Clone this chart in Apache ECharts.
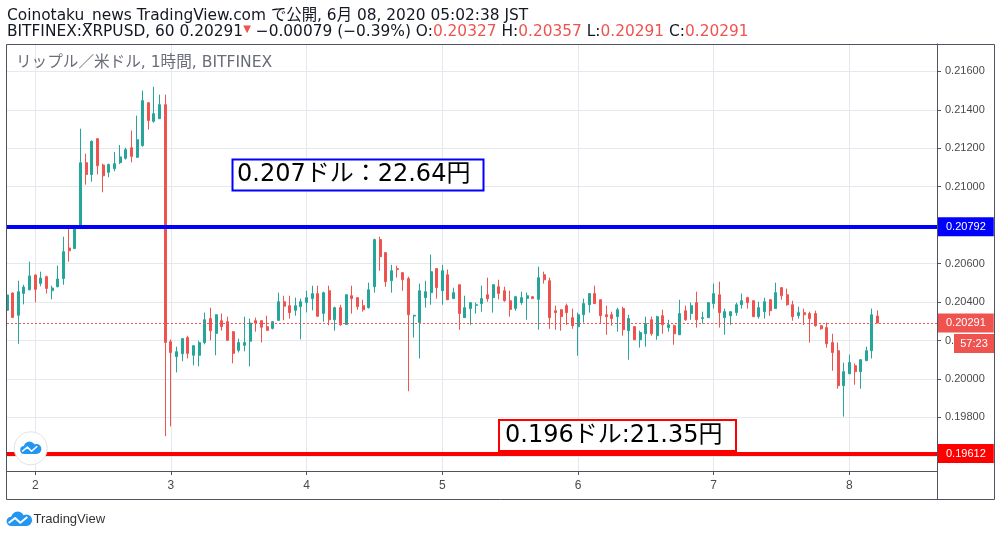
<!DOCTYPE html>
<html><head><meta charset="utf-8">
<script src="https://cdn.jsdelivr.net/npm/echarts@6/dist/echarts.min.js"></script>
<style>html,body{margin:0;padding:0;background:#fff}#c{width:1002px;height:537px}</style>
</head><body><div id="c"></div>
<script>
// hours relative to June 2, 00:00 ; first candle = June 1 19:00
const startHour = -5;
const opens = [0.20357,0.20447,0.20331,0.20445,0.20464,0.20541,0.20497,0.20532,0.20459,0.20480,
0.20522,0.20681,0.20678,0.20801,0.21125,0.21063,0.21250,0.21113,0.21075,0.21094,
0.21125,0.21148,0.21203,0.21153,0.21214,0.21437,0.21340,0.21354,0.21427,0.20194,
0.20116,0.20131,0.20215,0.20123,0.20123,0.20189,0.20314,0.20237,0.20303,0.20298,
0.20246,0.20149,0.20175,0.20196,0.20303,0.20303,0.20272,0.20263,0.20305,0.20402,
0.20381,0.20357,0.20376,0.20398,0.20418,0.20444,0.20341,0.20459,0.20308,0.20371,
0.20284,0.20433,0.20423,0.20381,0.20371,0.20480,0.20725,0.20657,0.20511,0.20574,
0.20553,0.20522,0.20327,0.20293,0.20423,0.20449,0.20574,0.20459,0.20542,0.20418,
0.20490,0.20319,0.20366,0.20383,0.20392,0.20438,0.20423,0.20480,0.20459,0.20407,
0.20367,0.20397,0.20419,0.20428,0.20414,0.20542,0.20511,0.20355,0.20360,0.20381,
0.20319,0.20272,0.20334,0.20386,0.20444,0.20412,0.20334,0.20334,0.20324,0.20366,
0.20251,0.20272,0.20204,0.20235,0.20308,0.20225,0.20329,0.20267,0.20277,0.20230,
0.20355,0.20340,0.20397,0.20315,0.20319,0.20392,0.20438,0.20319,0.20329,0.20345,
0.20386,0.20423,0.20407,0.20324,0.20350,0.20412,0.20366,0.20475,0.20438,0.20386,
0.20329,0.20345,0.20340,0.20340,0.20277,0.20267,0.20189,0.20147,0.19965,0.20027,
0.20069,0.20038,0.20095,0.20147,0.20327];
const closes = [0.20437,0.20320,0.20454,0.20478,0.20536,0.20466,0.20525,0.20471,0.20473,0.20520,
0.20662,0.20667,0.20783,0.21125,0.21064,0.21236,0.21109,0.21057,0.21116,0.21120,
0.21155,0.21193,0.21158,0.21245,0.21448,0.21344,0.21380,0.21427,0.20190,0.20137,
0.20142,0.20210,0.20133,0.20173,0.20189,0.20308,0.20251,0.20334,0.20272,0.20201,
0.20133,0.20189,0.20189,0.20291,0.20291,0.20269,0.20253,0.20298,0.20402,0.20378,
0.20345,0.20381,0.20402,0.20423,0.20444,0.20326,0.20449,0.20308,0.20371,0.20282,
0.20438,0.20418,0.20376,0.20360,0.20464,0.20725,0.20636,0.20506,0.20563,0.20570,
0.20516,0.20334,0.20331,0.20459,0.20454,0.20558,0.20475,0.20563,0.20412,0.20449,
0.20340,0.20371,0.20397,0.20386,0.20418,0.20418,0.20490,0.20445,0.20407,0.20362,
0.20428,0.20423,0.20433,0.20418,0.20527,0.20516,0.20319,0.20345,0.20324,0.20345,
0.20277,0.20334,0.20392,0.20444,0.20392,0.20329,0.20324,0.20314,0.20360,0.20256,
0.20314,0.20204,0.20241,0.20288,0.20235,0.20324,0.20282,0.20282,0.20235,0.20340,
0.20308,0.20381,0.20308,0.20319,0.20397,0.20444,0.20345,0.20350,0.20350,0.20386,
0.20407,0.20397,0.20324,0.20371,0.20402,0.20355,0.20449,0.20433,0.20386,0.20324,
0.20345,0.20334,0.20314,0.20277,0.20261,0.20183,0.20137,0.19965,0.20038,0.20085,
0.20038,0.20100,0.20147,0.20334,0.20291];
const lows = [0.20242,0.20318,0.20183,0.20388,0.20461,0.20399,0.20482,0.20445,0.20414,0.20476,
0.20490,0.20610,0.20676,0.20799,0.21011,0.21026,0.21064,0.20971,0.21049,0.21080,
0.21118,0.21141,0.21127,0.21151,0.21208,0.21297,0.21333,0.21352,0.19702,0.19753,
0.20034,0.20092,0.20107,0.20071,0.20066,0.20180,0.20201,0.20123,0.20251,0.20199,
0.20081,0.20138,0.20144,0.20066,0.20246,0.20190,0.20251,0.20258,0.20303,0.20305,
0.20314,0.20329,0.20206,0.20346,0.20357,0.20324,0.20298,0.20279,0.20251,0.20277,
0.20282,0.20340,0.20360,0.20350,0.20366,0.20449,0.20563,0.20480,0.20449,0.20527,
0.20459,0.19936,0.20215,0.20106,0.20371,0.20386,0.20418,0.20386,0.20410,0.20416,
0.20256,0.20317,0.20282,0.20340,0.20350,0.20402,0.20345,0.20414,0.20402,0.20324,
0.20355,0.20386,0.20308,0.20416,0.20256,0.20496,0.20261,0.20256,0.20251,0.20282,
0.20261,0.20121,0.20293,0.20345,0.20390,0.20288,0.20230,0.20277,0.20246,0.20225,
0.20100,0.20202,0.20163,0.20168,0.20225,0.20204,0.20235,0.20246,0.20178,0.20228,
0.20303,0.20308,0.20267,0.20288,0.20317,0.20366,0.20267,0.20230,0.20282,0.20329,
0.20366,0.20366,0.20322,0.20314,0.20314,0.20329,0.20364,0.20412,0.20381,0.20303,
0.20314,0.20282,0.20189,0.20272,0.20256,0.20163,0.20043,0.19949,0.19804,0.20025,
0.19970,0.19949,0.20093,0.20106,0.20291];
const highs = [0.20440,0.20450,0.20511,0.20490,0.20610,0.20543,0.20558,0.20537,0.20485,0.20589,
0.20740,0.20783,0.20794,0.21302,0.21172,0.21241,0.21252,0.21120,0.21120,0.21181,
0.21217,0.21203,0.21292,0.21370,0.21500,0.21440,0.21520,0.21479,0.21479,0.20205,
0.20168,0.20212,0.20225,0.20175,0.20199,0.20345,0.20371,0.20336,0.20340,0.20324,
0.20248,0.20210,0.20324,0.20314,0.20319,0.20305,0.20329,0.20300,0.20449,0.20433,
0.20433,0.20423,0.20418,0.20459,0.20485,0.20485,0.20454,0.20485,0.20376,0.20386,
0.20440,0.20485,0.20425,0.20412,0.20501,0.20730,0.20740,0.20660,0.20594,0.20589,
0.20555,0.20532,0.20334,0.20496,0.20511,0.20647,0.20576,0.20594,0.20569,0.20475,
0.20492,0.20433,0.20399,0.20397,0.20485,0.20527,0.20492,0.20516,0.20480,0.20459,
0.20433,0.20454,0.20449,0.20430,0.20584,0.20558,0.20527,0.20381,0.20362,0.20392,
0.20366,0.20345,0.20418,0.20446,0.20485,0.20414,0.20381,0.20350,0.20371,0.20376,
0.20334,0.20274,0.20251,0.20324,0.20324,0.20329,0.20360,0.20308,0.20282,0.20412,
0.20381,0.20397,0.20454,0.20350,0.20399,0.20496,0.20506,0.20366,0.20352,0.20397,
0.20444,0.20428,0.20409,0.20402,0.20423,0.20414,0.20501,0.20477,0.20470,0.20407,
0.20376,0.20366,0.20350,0.20355,0.20279,0.20293,0.20235,0.20189,0.20085,0.20126,
0.20080,0.20102,0.20168,0.20366,0.20357];
const dayTicks = [0,24,48,72,96,120,144];
const dayLabels = ['2','3','4','5','6','7','8'];
const priceTicks = [0.196,0.198,0.200,0.202,0.204,0.206,0.208,0.210,0.212,0.214,0.216];
const resistance = 0.20792;
const support = 0.19612;
const lastPrice = 0.20291;
const countdown = '57:23';
const headerLine1 = 'Coinotaku_news TradingView.com で公開, 6月 08, 2020 05:02:38 JST';
const symbolText = 'BITFINEX:XRPUSD, 60 0.20291';
const changeText = ' −0.00079 (−0.39%) ';
const ohlcLabels = ['O:', 'H:', 'L:', 'C:'];
const ohlcValues = ['0.20327', '0.20357', '0.20291', '0.20291'];
const watermark = 'リップル／米ドル, 1時間, BITFINEX';
const note1 = '0.207ドル：22.64円';
const note2 = '0.196ドル:21.35円';

const FONT = '"Liberation Sans", Arial, "Noto Sans CJK JP", sans-serif';
const WFONT = '"DejaVu Sans", "Noto Sans CJK JP", sans-serif';
const UP = '#26a69a', DOWN = '#ef5350', FRAME = '#50535e', GRID = '#e3e9ef', TXT = '#4a4a4a';

const data = opens.map((o, i) => [startHour + i, o, closes[i], lows[i], highs[i]]);

const chart = echarts.init(document.getElementById('c'), null, {renderer: 'canvas'});

function boxLabel(bg) {
  return {
    show: true, position: 'end', distance: 0,
    formatter: p => Number(p.value).toFixed(5),
    color: '#fff', backgroundColor: bg, fontSize: 11, fontFamily: FONT,
    padding: [4, 8, 3, 9], lineHeight: 12
  };
}

chart.setOption({
  animation: false,
  backgroundColor: '#fff',
  grid: {left: 7, right: 65, top: 44, bottom: 66, containLabel: false},
  xAxis: {
    type: 'value', min: -5, max: 159.5,
    axisLine: {show: true, onZero: false, lineStyle: {color: FRAME}},
    axisTick: {show: true, customValues: dayTicks, length: 4, lineStyle: {color: FRAME}},
    axisLabel: {customValues: dayTicks, formatter: v => dayLabels[dayTicks.indexOf(v)] || '',
      color: TXT, fontSize: 12, fontFamily: FONT, margin: 9},
    splitLine: {show: true, lineStyle: {color: GRID}}
  },
  yAxis: {
    type: 'value', position: 'right', min: 0.195211, max: 0.217425, scale: true,
    axisLine: {show: true, onZero: false, lineStyle: {color: FRAME}},
    axisTick: {show: true, customValues: priceTicks, length: 4, lineStyle: {color: FRAME}},
    axisLabel: {customValues: priceTicks, formatter: v => Number(v).toFixed(5),
      color: TXT, fontSize: 11, fontFamily: FONT, margin: 8},
    splitLine: {show: true, lineStyle: {color: GRID}}
  },
  series: [{
    type: 'candlestick',
    data: data,
    encode: {x: 0, y: [1, 2, 3, 4]},
    barWidth: 2.5,
    itemStyle: {color: UP, color0: DOWN, borderColor: UP, borderColor0: DOWN, borderWidth: 1},
    markLine: {
      silent: true, symbol: ['none', 'none'], animation: false, precision: 5,
      data: [
        {yAxis: lastPrice, lineStyle: {color: DOWN, width: 1, type: [2, 2]}, label: boxLabel(DOWN)},
        {yAxis: resistance, lineStyle: {color: '#0000ff', width: 4, type: 'solid'}, label: boxLabel('#0000ff')},
        {yAxis: support, lineStyle: {color: '#ff0000', width: 4, type: 'solid'}, label: boxLabel('#ff0000')}
      ]
    }
  }]
});

const pyLast = chart.convertToPixel({yAxisIndex: 0}, lastPrice);

const ohlcRich = ohlcLabels.map((l, i) => '{k|' + l + '}{r|' + ohlcValues[i] + '}').join('{k| }');

function logo(x, y, w, h, z) {
  const c = '#2196f3';
  return [
    {type: 'circle', shape: {cx: x + w*0.2, cy: y + h*0.68, r: h*0.32}, style: {fill: c}, z: z},
    {type: 'circle', shape: {cx: x + w*0.45, cy: y + h*0.45, r: h*0.45}, style: {fill: c}, z: z},
    {type: 'circle', shape: {cx: x + w*0.78, cy: y + h*0.6, r: h*0.4}, style: {fill: c}, z: z},
    {type: 'rect', shape: {x: x + w*0.2, y: y + h*0.5, width: w*0.6, height: h*0.5}, style: {fill: c}, z: z},
    {type: 'polyline', shape: {points: [[x + w*0.1, y + h*0.8], [x + w*0.35, y + h*0.45], [x + w*0.55, y + h*0.78], [x + w*0.82, y + h*0.38]]},
      style: {stroke: '#fff', lineWidth: Math.max(1.3, h*0.13), fill: null, lineJoin: 'round'}, z: z + 1}
  ];
}

chart.setOption({
  graphic: [
    {type: 'rect', shape: {x: 6.5, y: 44.5, width: 988, height: 455}, style: {fill: null, stroke: FRAME, lineWidth: 1}, z: 50},
    {type: 'line', shape: {x1: 937.5, y1: 44, x2: 937.5, y2: 500}, style: {stroke: FRAME, lineWidth: 1}, z: 50},
    {type: 'text', x: 7, y: 15.5, style: {text: headerLine1, font: '15.4px ' + WFONT, fill: '#131722', verticalAlign: 'middle'}, z: 60},
    {type: 'text', x: 7, y: 32, style: {
      text: '{k|' + symbolText + '}{t|▼}{k|' + changeText + '}' + ohlcRich,
      font: '15.4px ' + WFONT, verticalAlign: 'middle',
      rich: {k: {fill: '#131722', fontSize: 15.4, fontFamily: WFONT}, r: {fill: DOWN, fontSize: 15.4, fontFamily: WFONT},
             t: {fill: DOWN, fontSize: 10, fontFamily: 'DejaVu Sans', verticalAlign: 'top'}}
    }, z: 60},
    {type: 'text', x: 16, y: 63, style: {text: watermark, font: '15.6px ' + WFONT, fill: '#6a6d78', verticalAlign: 'middle'}, z: 60},
    {type: 'rect', shape: {x: 232.5, y: 159.5, width: 251, height: 31}, style: {fill: '#fff', stroke: '#0000ff', lineWidth: 2}, z: 70},
    {type: 'text', x: 237, y: 175, style: {text: note1, font: '24px ' + WFONT, fill: '#000', verticalAlign: 'middle'}, z: 71},
    {type: 'rect', shape: {x: 499, y: 420, width: 237, height: 31}, style: {fill: '#fff', stroke: '#ff0000', lineWidth: 2}, z: 70},
    {type: 'text', x: 505, y: 435.5, style: {text: note2, font: '24px ' + WFONT, fill: '#000', verticalAlign: 'middle'}, z: 71},
    {type: 'rect', shape: {x: 954, y: pyLast + 11, width: 40, height: 19}, style: {fill: DOWN}, z: 80},
    {type: 'text', x: 974, y: pyLast + 20.5, style: {text: countdown, font: '11px ' + FONT, fill: '#fff', align: 'center', verticalAlign: 'middle'}, z: 81},
    {type: 'circle', shape: {cx: 30.7, cy: 448.3, r: 16.5}, style: {fill: '#fff', stroke: '#e0e3eb', lineWidth: 1}, z: 90},
    ...logo(20, 441.5, 21, 12.5, 91),
    ...logo(6, 511.5, 26, 14.5, 61),
    {type: 'text', x: 33.5, y: 519, style: {text: 'TradingView', font: '13px ' + FONT, fill: '#333', verticalAlign: 'middle'}, z: 60}
  ]
});
</script>
</body></html>
